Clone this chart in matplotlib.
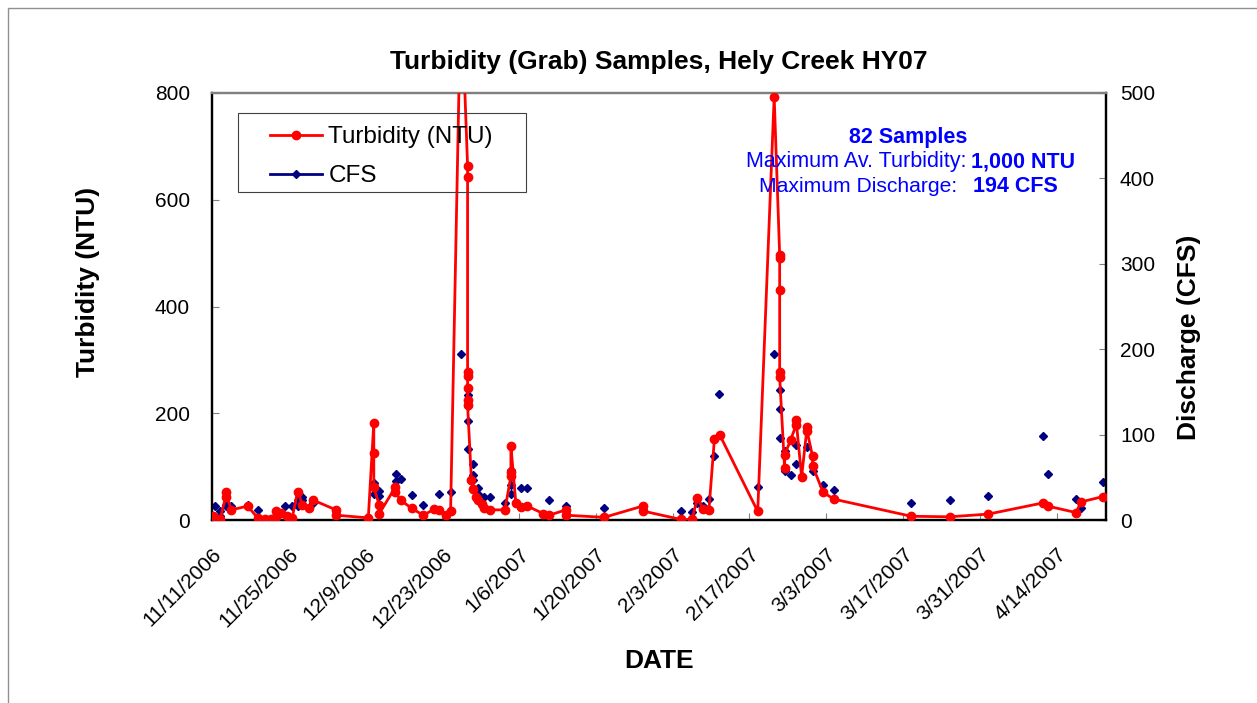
import numpy as np
import matplotlib
matplotlib.use("Agg")
import matplotlib.pyplot as plt
from matplotlib.lines import Line2D
from matplotlib.patches import Rectangle

plt.rcParams["font.family"] = ["Liberation Sans", "DejaVu Sans"]

# days since 11/11/2006 and turbidity (NTU)
turb_day = [0.2, 1.5, 2.5, 2.5, 3.5, 6.5, 8.4, 9.7, 10.7, 11.6, 11.6, 12.6, 13.6, 14.6,
            15.6, 16.5, 17.6, 18.5, 22.6, 22.6, 28.5, 29.5, 29.5, 29.5, 30.5, 30.5,
            33.4, 33.4, 34.4, 36.4, 38.5, 40.5, 41.3, 42.6, 43.5, 45.4, 46.6, 46.6,
            46.6, 46.6, 46.6, 46.6, 46.6, 47.3, 47.5, 48.2, 48.5, 49.2, 49.6, 50.6,
            53.4, 54.5, 54.5, 54.5, 55.4, 56.4, 57.5, 60.4, 61.5, 64.5, 64.5, 71.5,
            78.5, 78.5, 85.5, 87.5, 88.5, 89.6, 90.6, 91.6, 92.6, 99.5, 102.5, 103.5,
            103.5, 103.5, 103.5, 103.5, 104.4, 104.4, 105.5, 106.5, 106.5, 107.5,
            108.5, 108.5, 109.5, 109.5, 111.4, 113.4, 127.5, 134.5, 141.5, 151.5,
            152.4, 157.5, 158.5, 162.5]
turb_ntu = [7, 2, 44, 53, 19, 26, 3, 2, 2, 5, 16, 13, 7, 3,
            53, 29, 22, 37, 19, 9, 4, 182, 125, 61, 28, 12,
            61, 53, 37, 22, 9, 20, 19, 9, 16, 1000, 663, 643,
            278, 270, 247, 225, 215, 75, 59, 44, 37, 30, 22, 19,
            19, 82, 90, 139, 31, 25, 26, 12, 9, 19, 9, 5,
            26, 17, 1, 1, 41, 20, 19, 151, 159, 16, 793, 497,
            490, 431, 277, 268, 97, 122, 150, 178, 187, 81,
            174, 167, 119, 102, 52, 39, 7, 6, 11, 32,
            26, 14, 34, 44]

# days since 11/11/2006 and discharge (CFS)
cfs_day = [0.5, 1.5, 1.5, 2.5, 2.5, 3.5, 6.5, 8.4, 13.4, 14.6, 15.6, 15.6, 16.5, 16.5,
           18.5, 29.5, 29.5, 30.5, 30.5, 33.6, 33.6, 34.4, 36.4, 38.5, 41.4, 43.5,
           45.4, 46.6, 46.6, 46.6, 46.6, 47.5, 47.5, 47.5, 48.5, 48.5, 49.6, 50.6,
           53.5, 54.5, 54.5, 54.5, 56.4, 57.5, 61.5, 64.5, 71.5, 78.5, 85.5, 87.5,
           88.5, 89.6, 90.6, 91.6, 92.5, 99.5, 102.5, 103.5, 103.5, 103.5, 104.4,
           104.4, 105.5, 106.5, 106.5, 107.5, 108.5, 109.5, 111.4, 113.4, 127.5,
           134.5, 141.5, 151.5, 152.4, 157.5, 158.5, 162.5]
cfs_val = [16, 10, 5, 18, 16, 16, 18, 12, 16, 16, 23, 16, 27, 23,
           20, 43, 31, 34, 28, 54, 46, 48, 29, 18, 31, 33,
           194, 146, 134, 116, 83, 66, 53, 47, 38, 31, 27, 27,
           20, 58, 41, 31, 38, 38, 23, 16, 14, 12, 11, 9,
           20, 16, 25, 75, 148, 39, 194, 152, 130, 96, 81,
           57, 53, 88, 66, 52, 85, 57, 41, 35, 20,
           23, 28, 98, 54, 25, 14, 44]

tick_days = [0, 14, 28, 42, 56, 70, 84, 98, 112, 126, 140, 154]
tick_labels = ["11/11/2006", "11/25/2006", "12/9/2006", "12/23/2006", "1/6/2007",
               "1/20/2007", "2/3/2007", "2/17/2007", "3/3/2007", "3/17/2007",
               "3/31/2007", "4/14/2007"]

W, H = 1257, 703
AX_L, AX_R, AX_T, AX_B = 212, 1106, 93, 520
fig = plt.figure(figsize=(W / 100, H / 100), dpi=100)
ax = fig.add_axes([AX_L / W, 1 - AX_B / H, (AX_R - AX_L) / W, (AX_B - AX_T) / H])
ax2 = ax.twinx()

RED = "#FF0000"
NAVY = "#000080"
BLUE = "#0000FF"

def axx(px):
    return (px - AX_L) / (AX_R - AX_L)

def axy(py):
    return (AX_B - py) / (AX_B - AX_T)

ax.plot(turb_day, turb_ntu, color=RED, lw=2.0, marker="o", ms=6, zorder=3)
ax2.plot(cfs_day, cfs_val, ls="none", marker="D", ms=4.5, color=NAVY, zorder=4)
ax.set_zorder(ax2.get_zorder() + 1)
ax.patch.set_visible(False)

ax.set_xlim(0, 163)
ax.set_ylim(0, 800)
ax2.set_ylim(0, 500)
ax.set_yticks([0, 200, 400, 600, 800])
ax2.set_yticks([0, 100, 200, 300, 400, 500])
ax.set_xticks(tick_days)
ax.set_xticklabels(tick_labels, rotation=45, ha="right", rotation_mode="anchor")

for a in (ax, ax2):
    a.tick_params(direction="in", length=5, color="#808080", labelsize=15)
    for s in a.spines.values():
        s.set_linewidth(1.6)
        s.set_color("black")
    a.spines["top"].set_color("#808080")
ax.tick_params(axis="y", pad=16)
ax2.tick_params(axis="y", pad=10)
ax.tick_params(axis="x", pad=18)

ax.set_title("Turbidity (Grab) Samples, Hely Creek HY07", fontsize=19,
             fontweight="bold", pad=17)
ax.set_ylabel("Turbidity (NTU)", fontsize=19, fontweight="bold")
ax.yaxis.set_label_coords(axx(100), axy(282))
ax2.set_ylabel("Discharge (CFS)", fontsize=19, fontweight="bold")
ax2.yaxis.set_label_coords(axx(1177), axy(337))
ax.set_xlabel("DATE", fontsize=19, fontweight="bold", labelpad=12)

# legend: entries without frame, frame drawn as its own box
handles = [Line2D([], [], color=RED, lw=2.0, marker="o", ms=6),
           Line2D([], [], color=NAVY, lw=2.0, marker="D", ms=4.5)]
ax.legend(handles, ["Turbidity (NTU)", "CFS"], loc="upper left",
          bbox_to_anchor=(axx(270), axy(126)), fontsize=17.5, frameon=False,
          handlelength=2.15, borderaxespad=0, borderpad=0, labelspacing=0.7,
          handletextpad=0.25)
ax.add_patch(Rectangle((axx(238), axy(192)), axx(526) - axx(238),
                       axy(113) - axy(192), transform=ax.transAxes, fill=False,
                       edgecolor="#404040", lw=0.8, zorder=5))

def fy(py):
    return 1 - py / H

fig.text(908 / W, fy(137), "82 Samples", color=BLUE, fontsize=15.5,
         fontweight="bold", ha="center", va="center")
fig.text(966 / W, fy(162), "Maximum Av. Turbidity:", color=BLUE, fontsize=15.5,
         ha="right", va="center")
fig.text(971 / W, fy(162), "1,000 NTU", color=BLUE, fontsize=15.5,
         fontweight="bold", ha="left", va="center")
fig.text(957 / W, fy(186), "Maximum Discharge:", color=BLUE, fontsize=15.2,
         ha="right", va="center")
fig.text(973 / W, fy(186), "194 CFS", color=BLUE, fontsize=15.5,
         fontweight="bold", ha="left", va="center")

fig.patches.append(Rectangle((8 / W, -0.05), 1.2, 1.05 - 8 / H, fill=False,
                             edgecolor="#909090", lw=1.0,
                             transform=fig.transFigure, figure=fig))

fig.savefig("out.png", dpi=100)
